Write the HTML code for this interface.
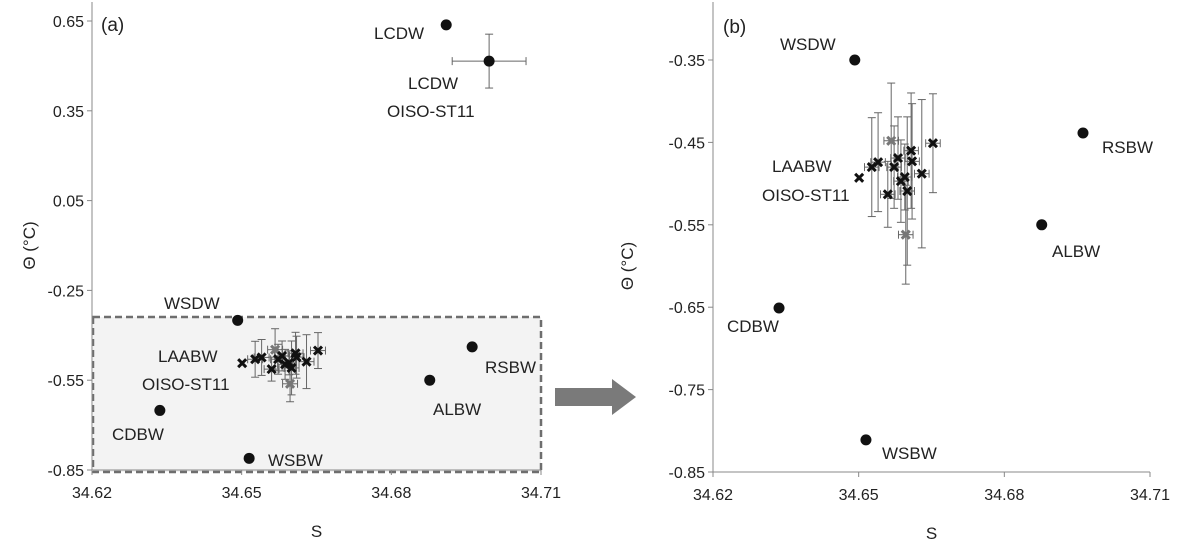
<!DOCTYPE html>
<html><head><meta charset="utf-8"><style>
body{margin:0;background:#fff;font-family:"Liberation Sans",sans-serif}
svg text{font-family:"Liberation Sans",sans-serif;fill:#222}
</style></head><body>
<svg id="c" width="1184" height="551"></svg>
<script>
const xTicks=[34.62,34.65,34.68,34.71];
const yTicksA=[0.65,0.35,0.05,-0.25,-0.55,-0.85];
const yTicksB=[-0.35,-0.45,-0.55,-0.65,-0.75,-0.85];
const mainNames=["WSDW","RSBW","ALBW","CDBW","WSBW"];
const mainS=[34.6492,34.6962,34.6877,34.6336,34.6515];
const mainT=[-0.35,-0.4386,-0.550,-0.651,-0.811];
const lcdS=[34.691,34.6996];
const lcdT=[0.637,0.516];
const lcdSerr=[0,0.0074];
const lcdTerr=[0,0.09];
const obsS=[34.6501,34.6527,34.654,34.656,34.6567,34.6573,34.6581,34.6587,34.6595,34.660,34.6608,34.661,34.6597,34.663,34.6653];
const obsT=[-0.493,-0.480,-0.474,-0.513,-0.448,-0.480,-0.469,-0.497,-0.492,-0.509,-0.460,-0.473,-0.562,-0.488,-0.451];
const obsTerr=[0.0,0.06,0.06,0.04,0.07,0.05,0.05,0.05,0.04,0.09,0.07,0.07,0.06,0.09,0.06];
const obsSerr=[0.0,0.0015,0.0015,0.0015,0.0015,0.0015,0.0015,0.0015,0.0015,0.0015,0.0015,0.0015,0.0015,0.0015,0.0015];
const obsGray=[0,0,0,0,1,0,0,0,0,0,0,0,1,0,0];

const svg=document.getElementById('c');
const NS='http://www.w3.org/2000/svg';
function el(t,a,p){const e=document.createElementNS(NS,t);for(const k in a)e.setAttribute(k,a[k]);(p||svg).appendChild(e);return e;}
function txt(x,y,s,a,p){const e=el('text',Object.assign({x:x,y:y},a),p);e.textContent=s;return e;}

function panel(cfg){
  const g=el('g',{});
  
  
  const X=v=>cfg.x0+(v-34.62)/(0.09)*(cfg.x1-cfg.x0);
  const Y=v=>cfg.y0+(cfg.ymax-v)/(cfg.ymax-cfg.ymin)*(cfg.y1-cfg.y0);
  if(cfg.box){
    const r=el('rect',{x:93,y:317,width:448,height:155,fill:'#f3f3f3',stroke:'#6e6e6e','stroke-width':2.5,'stroke-dasharray':'7,4'},g);
    
    
  }
  el('line',{x1:cfg.x0,y1:cfg.top,x2:cfg.x0,y2:cfg.y1,stroke:'#888','stroke-width':1},g);
  el('line',{x1:cfg.x0,y1:cfg.y1,x2:cfg.x1,y2:cfg.y1,stroke:'#888','stroke-width':1},g);
  xTicks.forEach(v=>{el('line',{x1:X(v),y1:cfg.y1,x2:X(v),y2:cfg.y1+5,stroke:'#888'},g);
    const t=txt(X(v),cfg.y1+28,v.toFixed(2),{'font-size':16,'text-anchor':'middle'},g);
    });
  cfg.yt.forEach(v=>{el('line',{x1:cfg.x0-5,y1:Y(v),x2:cfg.x0,y2:Y(v),stroke:'#888'},g);
    const t=txt(cfg.x0-8,Y(v)+6,v.toFixed(2),{'font-size':16,'text-anchor':'end'},g);
    });
  const xt=txt((cfg.x0+cfg.x1)/2,cfg.y1+67,'S',{'font-size':17,'text-anchor':'middle'},g);
  
  const yt=txt(0,0,'Θ (°C)',{'font-size':17,'text-anchor':'middle',transform:`translate(${cfg.x0-cfg.yto},${(cfg.y0+cfg.y1)/2}) rotate(-90)`},g);
  
  const pl=txt(cfg.lx,cfg.ly,cfg.label,{'font-size':19},g);
  
  obsS.forEach((s,i)=>{
    const cx=X(s),cy=Y(obsT[i]),col='#666';
    if(obsTerr[i]>0){const ya=Y(obsT[i]+obsTerr[i]),yb=Y(obsT[i]-obsTerr[i]);
      el('line',{x1:cx,y1:ya,x2:cx,y2:yb,stroke:col,'stroke-width':1},g);
      el('line',{x1:cx-4,y1:ya,x2:cx+4,y2:ya,stroke:col},g);el('line',{x1:cx-4,y1:yb,x2:cx+4,y2:yb,stroke:col},g);}
    if(obsSerr[i]>0){const xa=X(s-obsSerr[i]),xb=X(s+obsSerr[i]);
      el('line',{x1:xa,y1:cy,x2:xb,y2:cy,stroke:col},g);
      el('line',{x1:xa,y1:cy-4,x2:xa,y2:cy+4,stroke:col},g);el('line',{x1:xb,y1:cy-4,x2:xb,y2:cy+4,stroke:col},g);}
  });
  obsS.forEach((s,i)=>{
    const cx=X(s),cy=Y(obsT[i]),c=obsGray[i]?'#777':'#111';
    const m=el('path',{d:`M${cx-4},${cy-4}L${cx+4},${cy+4}M${cx-4},${cy+4}L${cx+4},${cy-4}`,stroke:c,'stroke-width':3},g);
    
  });
  mainS.forEach((s,i)=>{
    const c=el('circle',{cx:X(s),cy:Y(mainT[i]),r:5.5,fill:'#111'},g);
    
  });
  const L=cfg.labels;
  mainNames.forEach((n,i)=>{const t=txt(L[i][0],L[i][1],n,{'font-size':17},g);
    });
  txt(L[5][0],L[5][1],'LAABW',{'font-size':17},g);
  txt(L[6][0],L[6][1],'OISO-ST11',{'font-size':17},g);
  return {X,Y,g};
}
panel({name:'panel-b',label:'(b)',x0:713,x1:1150,y0:60,y1:472,top:2,yto:80,lx:723,ly:33,ymax:-0.35,ymin:-0.85,yt:yTicksB,
  labels:[[780,50],[1102,153],[1052,257],[727,332],[882,459],[772,172],[762,201]]});
const A=panel({name:'panel-a',label:'(a)',x0:92,x1:541,y0:21,y1:470,top:2,yto:57,lx:101,ly:31,ymax:0.65,ymin:-0.85,yt:yTicksA,box:true,
  labels:[[164,309],[485,373],[433,415],[112,440],[268,466],[158,362],[142,390]]});
lcdS.forEach((s,i)=>{
  const cx=A.X(s),cy=A.Y(lcdT[i]),col='#666';
  if(lcdTerr[i]>0){const ya=A.Y(lcdT[i]+lcdTerr[i]),yb=A.Y(lcdT[i]-lcdTerr[i]);
    el('line',{x1:cx,y1:ya,x2:cx,y2:yb,stroke:col},A.g);
    el('line',{x1:cx-4,y1:ya,x2:cx+4,y2:ya,stroke:col},A.g);el('line',{x1:cx-4,y1:yb,x2:cx+4,y2:yb,stroke:col},A.g);
    const xa=A.X(s-lcdSerr[i]),xb=A.X(s+lcdSerr[i]);
    el('line',{x1:xa,y1:cy,x2:xb,y2:cy,stroke:col},A.g);
    el('line',{x1:xa,y1:cy-4,x2:xa,y2:cy+4,stroke:col},A.g);el('line',{x1:xb,y1:cy-4,x2:xb,y2:cy+4,stroke:col},A.g);}
  const c=el('circle',{cx:cx,cy:cy,r:5.5,fill:'#111'},A.g);
  
});
txt(374,39,'LCDW',{'font-size':17},A.g);
txt(408,89,'LCDW',{'font-size':17},A.g);
txt(387,117,'OISO-ST11',{'font-size':17},A.g);
const ar=el('path',{d:'M555,388L612,388L612,379L636,397L612,415L612,406L555,406Z',fill:'#7a7a7a'});

</script>
</body></html>
